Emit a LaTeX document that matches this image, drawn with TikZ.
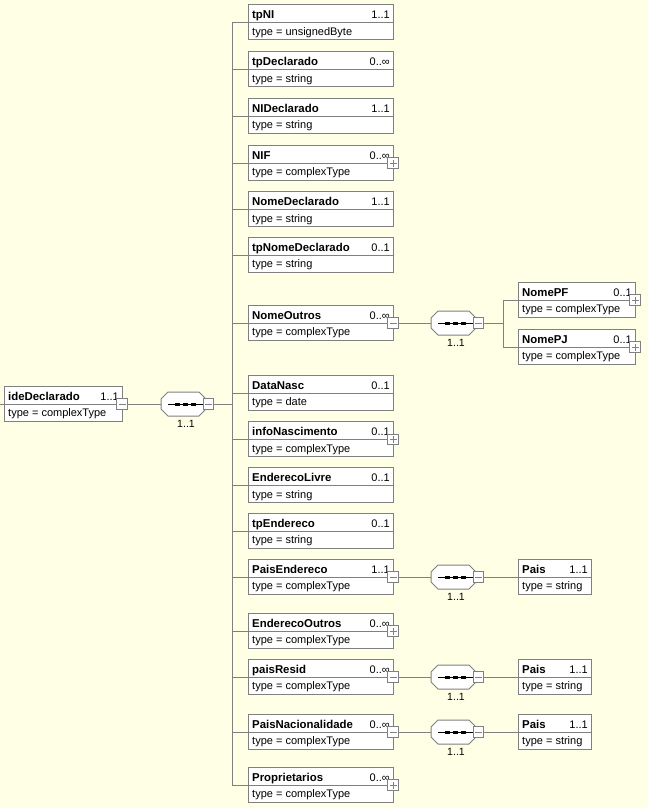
\documentclass[tikz,border=0pt]{standalone}
\usepackage{fontspec}
\setmainfont{Liberation Sans}
\definecolor{bgc}{RGB}{255,255,230}
\definecolor{lg}{RGB}{128,128,128}
\tikzset{
 ebox/.style={draw=lg, fill=white, line width=1pt, rectangle, minimum height=35pt, inner sep=0pt, outer sep=0pt},
 ttl/.style={font=\bfseries\fontsize{11.4}{13}\selectfont, inner sep=0pt},
 mlt/.style={font=\fontsize{11}{13}\selectfont, inner sep=0pt},
 typ/.style={font=\fontsize{11}{13}\selectfont, inner sep=0pt},
 sq/.style={draw=lg, fill=white, line width=1pt, minimum size=10.5pt, inner sep=0pt, outer sep=0pt},
 sgn/.style={draw=lg, line width=1pt},
 conn/.style={draw=lg, line width=1pt},
 cbox/.style={minimum width=45pt, minimum height=24pt, inner sep=0pt, outer sep=0pt},
 cmp/.style={draw=lg, fill=white, line width=1pt},
}
% #1 id, #2 left, #3 top, #4 width, #5 title, #6 mult, #7 type
\newcommand\elbox[7]{%
 \node[ebox, minimum width=#4pt, anchor=north west] (#1) at (#2,#3) {};
 \draw[draw=lg, line width=1pt] ([yshift=-18pt]#1.north west) -- ([yshift=-18pt]#1.north east);
 \node[ttl, anchor=base west] at ([xshift=4pt,yshift=-14pt]#1.north west) {#5};
 \node[mlt, anchor=base east] at ([xshift=-3pt,yshift=-14pt]#1.north east) {#6};
 \node[typ, anchor=base west] at ([xshift=4pt,yshift=-30.5pt]#1.north west) {type = #7};
 \coordinate (#1-in) at ([yshift=-18pt]#1.north west);
 \coordinate (#1-out) at ([yshift=-18pt]#1.north east);
}
% #1 id, #2: 1 plus, 0 minus
\newcommand\expsq[2]{%
 \node[sq] (#1-sq) at (#1-out) {};
 \draw[sgn] ([xshift=-3.5pt]#1-sq.center) -- ([xshift=3.5pt]#1-sq.center);
 \ifnum#2=1 \draw[sgn] ([yshift=-3.5pt]#1-sq.center) -- ([yshift=3.5pt]#1-sq.center);\fi
}
% #1 id, #2 left, #3 centre y
\newcommand\seqc[3]{%
 \node[cbox] (#1) at ({#2+22.5},#3) {};
 \draw[cmp] ([yshift=5pt]#1.west) -- ([xshift=7pt]#1.north west) -- ([xshift=-7pt]#1.north east) -- ([yshift=5pt]#1.east) -- ([yshift=-5pt]#1.east) -- ([xshift=-7pt]#1.south east) -- ([xshift=7pt]#1.south west) -- ([yshift=-5pt]#1.west) -- cycle;
 \draw[black, line width=1pt] ([xshift=7pt]#1.west) -- ([xshift=42pt]#1.west);
 \foreach \d in {14,22,30} \fill[black] ([xshift=\d pt, yshift=1.5pt]#1.west) rectangle ++(5,3);
 \node[sq] (#1-sq) at ([xshift=47.5pt]#1.west) {};
 \draw[sgn] ([xshift=-3.5pt]#1-sq.center) -- ([xshift=3.5pt]#1-sq.center);
 \node[typ, anchor=base, font=\fontsize{10.5}{12}\selectfont] at ([xshift=25pt, yshift=-23pt]#1.west) {1..1};
}
\begin{document}
\begin{tikzpicture}[x=1pt, y=-1pt]
\fill[bgc] (0,0) rectangle (648,808);
\useasboundingbox (0,0) rectangle (648,808);

% root
\elbox{root}{4}{386}{118}{ideDeclarado}{1..1}{complexType}
\expsq{root}{0}
\seqc{c0}{161}{404}

% children
\elbox{tpNI}{248}{5}{145}{tpNI}{1..1}{unsignedByte}
\elbox{tpDeclarado}{248}{51.5}{145}{tpDeclarado}{0..∞}{string}
\elbox{NIDeclarado}{248}{98}{145}{NIDeclarado}{1..1}{string}
\elbox{NIF}{248}{145}{145}{NIF}{0..∞}{complexType}
\expsq{NIF}{1}
\elbox{NomeDeclarado}{248}{191.5}{145}{NomeDeclarado}{1..1}{string}
\elbox{tpNomeDeclarado}{248}{237}{145}{tpNomeDeclarado}{0..1}{string}
\elbox{NomeOutros}{248}{305}{145}{NomeOutros}{0..∞}{complexType}
\expsq{NomeOutros}{0}
\elbox{DataNasc}{248}{375}{145}{DataNasc}{0..1}{date}
\elbox{infoNascimento}{248}{421.5}{145}{infoNascimento}{0..1}{complexType}
\expsq{infoNascimento}{1}
\elbox{EnderecoLivre}{248}{467.5}{145}{EnderecoLivre}{0..1}{string}
\elbox{tpEndereco}{248}{513}{145}{tpEndereco}{0..1}{string}
\elbox{PaisEndereco}{248}{559}{145}{PaisEndereco}{1..1}{complexType}
\expsq{PaisEndereco}{0}
\elbox{EnderecoOutros}{248}{613}{145}{EnderecoOutros}{0..∞}{complexType}
\expsq{EnderecoOutros}{1}
\elbox{paisResid}{248}{659}{145}{paisResid}{0..∞}{complexType}
\expsq{paisResid}{0}
\elbox{PaisNacionalidade}{248}{714}{145}{PaisNacionalidade}{0..∞}{complexType}
\expsq{PaisNacionalidade}{0}
\elbox{Proprietarios}{248}{767}{145}{Proprietarios}{0..∞}{complexType}
\expsq{Proprietarios}{1}

% NomeOutros subtree
\seqc{c1}{431}{323}
\elbox{NomePF}{518}{282}{117}{NomePF}{0..1}{complexType}
\expsq{NomePF}{1}
\elbox{NomePJ}{518}{329}{117}{NomePJ}{0..1}{complexType}
\expsq{NomePJ}{1}

% Pais subtrees
\seqc{c2}{431}{577}
\elbox{PaisA}{518}{559}{73}{Pais}{1..1}{string}
\seqc{c3}{431}{677}
\elbox{PaisB}{518}{659}{73}{Pais}{1..1}{string}
\seqc{c4}{431}{732}
\elbox{PaisC}{518}{714}{73}{Pais}{1..1}{string}

% connectors
\coordinate (L0) at (0,404);
\draw[conn] (L0) -- (root-in);
\draw[conn] (root-sq.east) -- (c0.west);
\coordinate (T0) at (232,404);
\draw[conn] (c0-sq.east) -- (T0);
\foreach \c in {tpNI,tpDeclarado,NIDeclarado,NIF,NomeDeclarado,tpNomeDeclarado,NomeOutros,DataNasc,infoNascimento,EnderecoLivre,tpEndereco,PaisEndereco,EnderecoOutros,paisResid,PaisNacionalidade,Proprietarios}
  \draw[conn] (T0) |- (\c-in);

\draw[conn] (NomeOutros-sq.east) -- (c1.west);
\coordinate (T1) at (503,323);
\draw[conn] (c1-sq.east) -- (T1);
\draw[conn] (T1) |- (NomePF-in);
\draw[conn] (T1) |- (NomePJ-in);

\draw[conn] (PaisEndereco-sq.east) -- (c2.west);
\draw[conn] (c2-sq.east) -- (PaisA-in);
\draw[conn] (paisResid-sq.east) -- (c3.west);
\draw[conn] (c3-sq.east) -- (PaisB-in);
\draw[conn] (PaisNacionalidade-sq.east) -- (c4.west);
\draw[conn] (c4-sq.east) -- (PaisC-in);
\end{tikzpicture}
\end{document}
